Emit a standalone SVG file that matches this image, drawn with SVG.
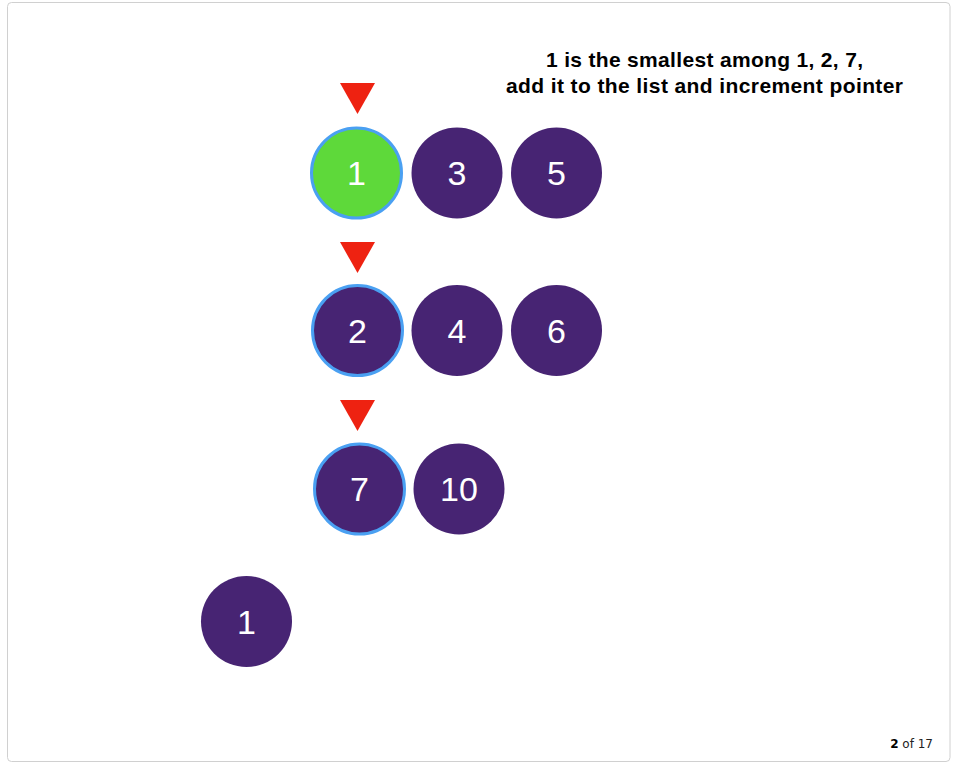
<svg xmlns="http://www.w3.org/2000/svg" width="954" height="767" viewBox="0 0 954 767">
<style>
.node circle{fill:#472473}
.node text{fill:#ffffff;font-family:"Liberation Sans",Arial,sans-serif;font-size:34px;text-anchor:middle}
.ptr{fill:#ee2211}
.cur{stroke:#4aa0f2;stroke-width:3}
.title{font-family:"Liberation Sans",Arial,sans-serif;font-size:21px;font-weight:bold;fill:#000;text-anchor:middle}
.page{font-family:"DejaVu Sans",Verdana,sans-serif;font-size:12px;fill:#222;text-anchor:end}
</style>
<rect x="7.5" y="2.5" width="942.5" height="759" rx="4" fill="#ffffff" stroke="#d0d0d0" stroke-width="1"/>
<text class="title" x="704.5" y="67" textLength="317" lengthAdjust="spacing">1 is the smallest among 1, 2, 7,</text>
<text class="title" x="704.5" y="93" textLength="397" lengthAdjust="spacing">add it to the list and increment pointer</text>
<g id="connectors">
<polygon class="ptr" points="340,83 375,83 357.5,114"/>
<polygon class="ptr" points="340,242 375,242 357.5,273"/>
<polygon class="ptr" points="340,400 375,400 357.5,431"/>
</g>
<g id="n1a" class="node"><circle class="cur" cx="356.5" cy="173" r="45" style="fill:#5ed93a"/><text x="356.5" y="185">1</text></g>
<g id="n3" class="node"><circle cx="457" cy="173" r="45.5"/><text x="457" y="185">3</text></g>
<g id="n5" class="node"><circle cx="556.5" cy="173" r="45.5"/><text x="556.5" y="185">5</text></g>
<g id="n2" class="node"><circle class="cur" cx="357.5" cy="330.5" r="45"/><text x="357.5" y="342.5">2</text></g>
<g id="n4" class="node"><circle cx="457" cy="330.5" r="45.5"/><text x="457" y="342.5">4</text></g>
<g id="n6" class="node"><circle cx="556.5" cy="330.5" r="45.5"/><text x="556.5" y="342.5">6</text></g>
<g id="n7" class="node"><circle class="cur" cx="359.5" cy="489" r="45"/><text x="359.5" y="501">7</text></g>
<g id="n10" class="node"><circle cx="459" cy="489" r="45.5"/><text x="459" y="501">10</text></g>
<g id="out1" class="node"><circle cx="246.5" cy="621.5" r="45.5"/><text x="246.5" y="633.5">1</text></g>
<text class="page" x="933" y="748"><tspan font-weight="bold" fill="#000">2</tspan> of 17</text>
</svg>
